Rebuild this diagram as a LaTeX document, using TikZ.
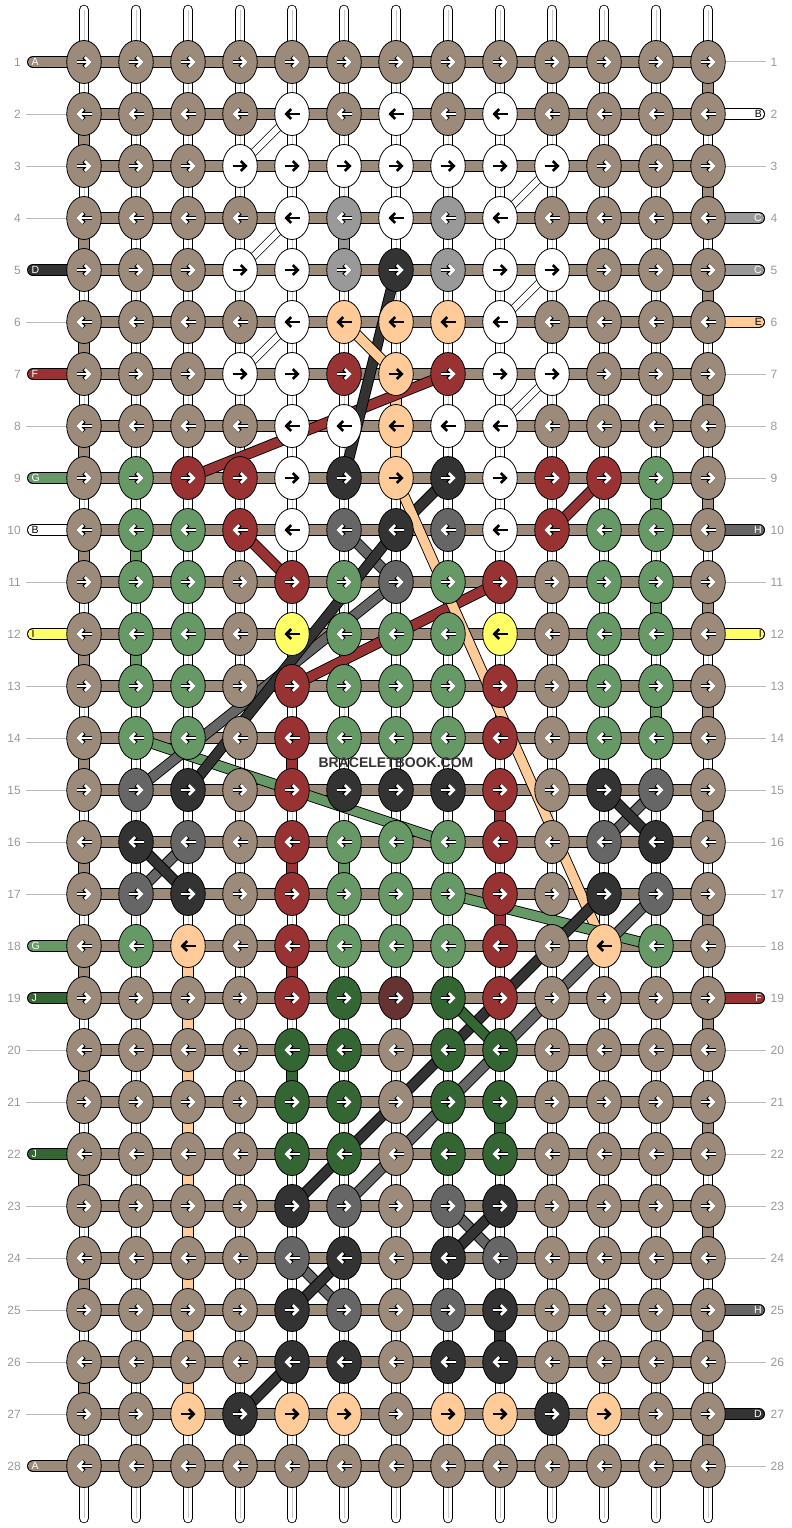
\documentclass[tikz,border=0pt]{standalone}
\usepackage{fontspec}
\setmainfont{Liberation Sans}
\usetikzlibrary{arrows.meta,shapes.geometric}
\definecolor{cT}{HTML}{9C8B7A}
\definecolor{cW}{HTML}{FFFFFF}
\definecolor{cL}{HTML}{999999}
\definecolor{cK}{HTML}{333333}
\definecolor{cM}{HTML}{666666}
\definecolor{cP}{HTML}{FFCC99}
\definecolor{cR}{HTML}{993333}
\definecolor{cG}{HTML}{669966}
\definecolor{cD}{HTML}{336633}
\definecolor{cY}{HTML}{FFFF66}
\definecolor{cX}{HTML}{663333}
\definecolor{numgray}{HTML}{999999}
\definecolor{linegray}{HTML}{BBBBBB}
\definecolor{midline}{HTML}{C8C8C8}
\definecolor{wm}{HTML}{333333}
\def\txT{white}\def\txW{black}\def\txL{white}\def\txK{white}\def\txM{white}
\def\txP{black}\def\txR{white}\def\txG{white}\def\txD{white}\def\txY{black}\def\txX{white}
\def\blk{black}
\def\defrow#1#2{\expandafter\def\csname knotrow#1\endcsname{#2}}
\defrow{1}{T,T,T,T,T,T,T,T,T,T,T,T,T}
\defrow{2}{T,T,T,T,W,T,W,T,W,T,T,T,T}
\defrow{3}{T,T,T,W,W,W,W,W,W,W,T,T,T}
\defrow{4}{T,T,T,T,W,L,W,L,W,T,T,T,T}
\defrow{5}{T,T,T,W,W,L,K,L,W,W,T,T,T}
\defrow{6}{T,T,T,T,W,P,P,P,W,T,T,T,T}
\defrow{7}{T,T,T,W,W,R,P,R,W,W,T,T,T}
\defrow{8}{T,T,T,T,W,W,P,W,W,T,T,T,T}
\defrow{9}{T,G,R,R,W,K,P,K,W,R,R,G,T}
\defrow{10}{T,G,G,R,W,M,K,M,W,R,G,G,T}
\defrow{11}{T,G,G,T,R,G,M,G,R,T,G,G,T}
\defrow{12}{T,G,G,T,Y,G,G,G,Y,T,G,G,T}
\defrow{13}{T,G,G,T,R,G,G,G,R,T,G,G,T}
\defrow{14}{T,G,G,T,R,G,G,G,R,T,G,G,T}
\defrow{15}{T,M,K,T,R,K,K,K,R,T,K,M,T}
\defrow{16}{T,K,M,T,R,G,G,G,R,T,M,K,T}
\defrow{17}{T,M,K,T,R,G,G,G,R,T,K,M,T}
\defrow{18}{T,G,P,T,R,G,G,G,R,T,P,G,T}
\defrow{19}{T,T,T,T,R,D,X,D,R,T,T,T,T}
\defrow{20}{T,T,T,T,D,D,T,D,D,T,T,T,T}
\defrow{21}{T,T,T,T,D,D,T,D,D,T,T,T,T}
\defrow{22}{T,T,T,T,D,D,T,D,D,T,T,T,T}
\defrow{23}{T,T,T,T,K,M,T,M,K,T,T,T,T}
\defrow{24}{T,T,T,T,M,K,T,K,M,T,T,T,T}
\defrow{25}{T,T,T,T,K,M,T,M,K,T,T,T,T}
\defrow{26}{T,T,T,T,K,K,T,K,K,T,T,T,T}
\defrow{27}{T,T,P,K,P,P,T,P,P,K,P,T,T}
\defrow{28}{T,T,T,T,T,T,T,T,T,T,T,T,T}
\tikzset{
  knot/.style={ellipse, draw=black, line width=0.8pt, minimum width=34.5pt, minimum height=43pt, inner sep=0pt},
  vblock/.style={draw=black, line width=0.8pt},
  hbarO/.style={line width=12pt, black},
  hbarI/.style={line width=10.2pt, cT},
  dgO/.style={line width=11pt, black, line join=round},
  dg/.style={line width=9.2pt, line join=round},
  wdO/.style={line width=8pt, black},
  wdI/.style={line width=6.4pt, white},
  arrO/.style={black, line width=4.1pt, -{Straight Barb[length=4.8pt,width=9.8pt]}},
  arrW/.style={white, line width=2.7pt, -{Straight Barb[length=4.8pt,width=9.8pt]}},
  arrB/.style={black, line width=2.7pt, -{Straight Barb[length=4.8pt,width=9.8pt]}},
  numlab/.style={text=numgray, font=\fontsize{12}{14}\selectfont, inner sep=0pt},
  stublab/.style={font=\fontsize{10.5}{12}\selectfont, inner sep=0pt},
  numline/.style={linegray, line width=1pt},
}
\newcommand\strand[2]{\draw[dgO] #2; \draw[dg, color=#1] #2;}
\newcommand\wstrand[1]{\draw[wdO] #1; \draw[wdI] #1;}
\begin{document}
\begin{tikzpicture}[x=1pt,y=-1pt]
\useasboundingbox (0,0) rectangle (792,1528);
\fill[white] (0,0) rectangle (792,1528);
% grid coordinates
\foreach \r in {1,...,28}{\foreach \c in {1,...,13}{
  \coordinate (p-\r-\c) at ({84+52*(\c-1)},{62+52*(\r-1)});}}
% vertical warp strings
\foreach \c in {1,...,13}{
  \coordinate (top-\c) at ({84+52*(\c-1)},10);
  \coordinate (bot-\c) at ({84+52*(\c-1)},1518);
  \draw[line width=10.5pt, line cap=round, black] (top-\c) -- (bot-\c);
  \draw[line width=8.9pt, line cap=round, white] (top-\c) -- (bot-\c);
  \draw[line width=0.6pt, midline] (top-\c) -- (bot-\c);
}
% vertical coloured blocks
\foreach \r in {1,3,...,27}{\pgfmathtruncatemacro\rn{\r+1}
  \draw[vblock, fill=cT] ([xshift=-5.2pt]p-\r-13) rectangle ([xshift=5.2pt]p-\rn-13);}
\foreach \r in {2,4,...,26}{\pgfmathtruncatemacro\rn{\r+1}
  \draw[vblock, fill=cT] ([xshift=-5.2pt]p-\r-1) rectangle ([xshift=5.2pt]p-\rn-1);}
\foreach \r in {18,...,26}{\pgfmathtruncatemacro\rn{\r+1}
  \draw[vblock, fill=cP] ([xshift=-5.2pt]p-\r-3) rectangle ([xshift=5.2pt]p-\rn-3);}
\foreach \r/\c/\cl in {4/6/cL, 7/7/cP, 8/7/cP, 10/2/cG, 9/12/cG, 12/2/cG, 11/12/cG, 13/12/cG,
   14/5/cR, 15/9/cR, 16/5/cR, 16/6/cG, 18/5/cR, 17/9/cR, 20/5/cD, 21/9/cD, 25/9/cK}{
  \pgfmathtruncatemacro\rn{\r+1}
  \draw[vblock, fill=\cl] ([xshift=-5.2pt]p-\r-\c) rectangle ([xshift=5.2pt]p-\rn-\c);}
% number lines
\foreach \r in {2,3,4,6,8,11,13,14,15,16,17,20,21,23,24,25,26,27}{
  \coordinate (ln-\r) at (26,{62+52*(\r-1)});
  \draw[numline] (ln-\r) -- (p-\r-1);}
\foreach \r in {1,3,7,8,9,11,13,14,15,16,17,18,20,21,22,23,24,26,28}{
  \coordinate (rn-\r) at (766,{62+52*(\r-1)});
  \draw[numline] (p-\r-13) -- (rn-\r);}
% stubs
\foreach \r/\cl/\lt/\tc in {1/cT/A/white, 5/cK/D/white, 7/cR/F/white, 9/cG/G/white, 10/cW/B/black,
   12/cY/I/black, 18/cG/G/white, 19/cD/J/white, 22/cD/J/white, 28/cT/A/white}{
  \coordinate (ls-\r) at (33,{62+52*(\r-1)});
  \draw[line width=12pt, line cap=round, black] (ls-\r) -- (p-\r-1);
  \draw[line width=10.2pt, line cap=round, color=\cl] (ls-\r) -- (p-\r-1);
  \node[stublab, text=\tc, anchor=west] (lt-\r) at (31.5,{62+52*(\r-1)}) {\lt};}
\foreach \r/\cl/\lt/\tc in {2/cW/B/black, 4/cL/C/white, 5/cL/C/white, 6/cP/E/black, 10/cM/H/white,
   12/cY/I/black, 19/cR/F/white, 25/cM/H/white, 27/cK/D/white}{
  \coordinate (rs-\r) at (759,{62+52*(\r-1)});
  \draw[line width=12pt, line cap=round, black] (p-\r-13) -- (rs-\r);
  \draw[line width=10.2pt, line cap=round, color=\cl] (p-\r-13) -- (rs-\r);
  \node[stublab, text=\tc, anchor=east] (rt-\r) at (762,{62+52*(\r-1)}) {\lt};}
% horizontal bars
\foreach \r in {1,...,28}{
  \draw[hbarO] (p-\r-1) -- (p-\r-13);
  \draw[hbarI] (p-\r-1) -- (p-\r-13);}
% white diagonal strings
\wstrand{(p-2-5) -- (p-3-4)}
\wstrand{(p-4-5) -- (p-5-4)}
\wstrand{(p-6-5) -- (p-7-4)}
\wstrand{(p-3-10) -- (p-4-9)}
\wstrand{(p-5-10) -- (p-6-9)}
\wstrand{(p-7-10) -- (p-8-9)}
% coloured diagonal strings
\strand{cR}{(p-9-3) -- (p-7-8)}
\strand{cK}{(p-5-7) -- (p-9-6)}
\strand{cP}{(p-6-6) -- (p-7-7)}
\strand{cR}{(p-10-4) -- (p-11-5)}
\strand{cR}{(p-9-11) -- (p-10-10)}
\strand{cG}{(p-14-2) -- (p-16-8)}
\strand{cM}{(p-10-6) -- (p-11-7) -- (p-15-2)}
\strand{cK}{(p-9-8) -- (p-10-7) -- (p-15-3)}
\strand{cR}{(p-11-9) -- (p-13-5)}
\strand{cP}{(p-9-7) -- (p-18-11)}
\strand{cG}{(p-17-8) -- (p-18-12)}
\strand{cM}{(p-16-11) -- (p-15-12)}
\strand{cK}{(p-15-11) -- (p-16-12)}
\strand{cM}{(p-16-3) -- (p-17-2)}
\strand{cK}{(p-16-2) -- (p-17-3)}
\strand{cK}{(p-17-11) -- (p-23-5)}
\strand{cM}{(p-17-12) -- (p-23-6)}
\strand{cD}{(p-19-8) -- (p-20-9)}
\strand{cM}{(p-24-5) -- (p-25-6)}
\strand{cK}{(p-24-6) -- (p-25-5)}
\strand{cM}{(p-23-8) -- (p-24-9)}
\strand{cK}{(p-23-9) -- (p-24-8)}
\strand{cK}{(p-26-5) -- (p-27-4)}
% knots
\foreach \r in {1,...,28}{
  \edef\rowlist{\csname knotrow\r\endcsname}
  \foreach \col [count=\c] in \rowlist {
    \edef\fc{c\col}\edef\ac{\csname tx\col\endcsname}
    \node[knot, fill=\fc] (k-\r-\c) at (p-\r-\c) {};
    \ifodd\r\relax \def\ax{-7.5}\def\bx{7.5}\else \def\ax{7.5}\def\bx{-7.5}\fi
    \ifx\ac\blk
      \draw[arrB] ([xshift=\ax pt]k-\r-\c.center) -- ([xshift=\bx pt]k-\r-\c.center);
    \else
      \draw[arrO] ([xshift=\ax pt]k-\r-\c.center) -- ([xshift=\bx pt]k-\r-\c.center);
      \draw[arrW] ([xshift=\ax pt]k-\r-\c.center) -- ([xshift=\bx pt]k-\r-\c.center);
    \fi
  }
}
% row numbers
\foreach \r in {1,...,28}{
  \node[numlab, anchor=east] (nl-\r) at (21,{62+52*(\r-1)}) {\r};
  \node[numlab, anchor=west] (nr-\r) at (770.5,{62+52*(\r-1)}) {\r};}
% watermark
\node[text=wm, font=\bfseries\fontsize{14}{16}\selectfont, inner sep=0pt] (wmk) at (396,763) {BRACELETBOOK.COM};
\end{tikzpicture}
\end{document}
